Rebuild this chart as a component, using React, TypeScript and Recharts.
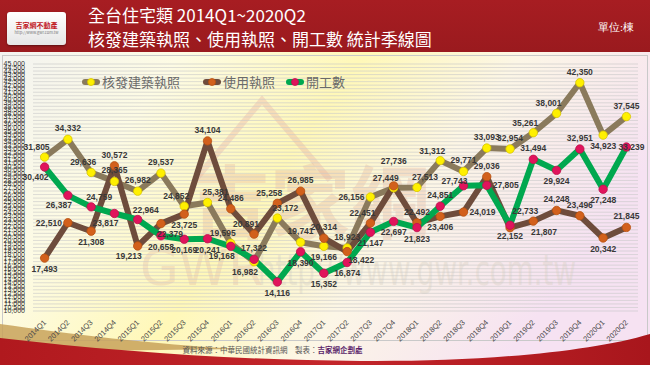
import { LineChart, Line, XAxis, YAxis, CartesianGrid, LabelList } from "recharts";

const quarters = [
  "2014Q1", "2014Q2", "2014Q3", "2014Q4",
  "2015Q1", "2015Q2", "2015Q3", "2015Q4",
  "2016Q1", "2016Q2", "2016Q3", "2016Q4",
  "2017Q1", "2017Q2", "2017Q3", "2017Q4",
  "2018Q1", "2018Q2", "2018Q3", "2018Q4",
  "2019Q1", "2019Q2", "2019Q3", "2019Q4",
  "2020Q1", "2020Q2",
];

// 核發建築執照
const buildingPermits = [
  31805, 34332, 29636, 28365, 26982, 29537, 24852, 25381,
  19595, 16982, 23172, 19741, 19166, 18923, 26156, 27449,
  27513, 31312, 29771, 33093, 32954, 35261, 38001, 42350,
  34923, 37545,
];

// 使用執照
const usePermits = [
  17493, 22510, 21308, 30572, 19213, 22379, 23725, 34104,
  24486, 20891, 25258, 26985, 20314, 18422, 22451, 27736,
  22492, 23406, 24019, 29036, 21807, 22733, 24248, 23496,
  20342, 21845,
];

// 開工數
const starts = [
  30402, 26387, 24759, 23817, 22964, 20658, 20169, 20241,
  19168, 17322, 14116, 18390, 15352, 16874, 21147, 22697,
  21823, 24851, 27743, 27805, 22152, 31494, 29924, 32951,
  27248, 33239,
];

const yTicks: number[] = [];
for (let v = 10000; v <= 45000; v += 500) yTicks.push(v);

const data = quarters.map((q, i) => ({
  q,
  building: buildingPermits[i],
  use: usePermits[i],
  start: starts[i],
}));

// where each value label sits relative to its dot (hand-placed like the original)
const LABEL_SIDE: Record<string, string[]> = {
  building: [
    "tl", "t", "tl", "t", "t", "t", "tl", "tr", "tl", "bl", "tr", "t", "b",
    "t", "l", "tl", "tr", "tl", "t", "t", "t", "tl", "tl", "t", "b", "t",
  ],
  use: [
    "b", "l", "b", "t", "bl", "br", "b", "t", "t", "tl", "tl", "t", "t",
    "rb", "tl", "hi", "t", "b", "r", "t", "far", "tl", "t", "t", "b", "t",
  ],
  start: [
    "bl", "bl", "tr", "bl", "tr", "b", "b", "b", "bl", "t", "b", "b", "b",
    "b", "b", "b", "b", "t", "ml", "r", "b", "t", "b", "t", "b", "on",
  ],
};

const OFFSETS: Record<string, [number, number, "start" | "middle" | "end"]> = {
  t: [0, -8, "middle"],
  b: [0, 14, "middle"],
  l: [-6, 3, "end"],
  r: [6, 3, "start"],
  tl: [-8, -7, "middle"],
  tr: [8, -7, "middle"],
  bl: [-9, 13, "middle"],
  br: [9, 13, "middle"],
  rb: [14, 11, "middle"],
  hi: [0, -22, "middle"],
  far: [34, 7, "middle"],
  ml: [-9, -2, "middle"],
  on: [5, 3, "middle"],
};

const SERIES = [
  { key: "building", name: "核發建築執照", line: "#8a7a5c", dot: "#fff000", dotStroke: "#d6c400" },
  { key: "use", name: "使用執照", line: "#6e4c3c", dot: "#d2601c", dotStroke: "#b8500f" },
  { key: "start", name: "開工數", line: "#00a84f", dot: "#e0145c", dotStroke: "#c0104c" },
];

const fmt = (v: number) => v.toLocaleString("en-US");

const makeLabel = (key: string) => (props: any) => {
  const { x, y, value, index } = props;
  const [dx, dy, anchor] = OFFSETS[LABEL_SIDE[key][index]] || OFFSETS.t;
  return (
    <text
      x={x + dx}
      y={y + dy}
      textAnchor={anchor}
      fontSize={8.5}
      fontWeight="bold"
      fill="#383838"
      fontFamily="'Liberation Sans', Arial, sans-serif"
    >
      {fmt(value)}
    </text>
  );
};

const XTick = (props: any) => {
  const { x, y, payload } = props;
  return (
    <text
      x={x + 2}
      y={y + 4}
      transform={`rotate(-45, ${x + 2}, ${y + 4})`}
      textAnchor="end"
      fontSize={7.5}
      fill="#4a4a4a"
      fontFamily="'Liberation Sans', Arial, sans-serif"
    >
      {payload.value}
    </text>
  );
};

function LegendIcon({ line, dot, dotStroke }: { line: string; dot: string; dotStroke: string }) {
  return (
    <svg width={20} height={12} style={{ display: "block" }}>
      <line x1={4} y1={6} x2={16} y2={6} stroke={line} strokeWidth={6} strokeLinecap="round" />
      <circle cx={10} cy={6} r={3.5} fill={dot} stroke={dotStroke} strokeWidth={0.8} />
    </svg>
  );
}

export default function App() {
  return (
    <div
      style={{
        position: "relative",
        width: 650,
        height: 365,
        overflow: "hidden",
        fontFamily: "'Noto Sans CJK TC', 'Noto Sans', sans-serif",
        background: "#fff",
      }}
    >
      <style>{"body{margin:0}"}</style>

      {/* backdrop */}
      <svg width={650} height={365} style={{ position: "absolute", left: 0, top: 0 }}>
        <defs>
          <linearGradient id="bg" x1="0" y1="0" x2="1" y2="0.35">
            <stop offset="0" stopColor="#f3f3f1" />
            <stop offset="0.25" stopColor="#fdfbe4" />
            <stop offset="0.5" stopColor="#fff8b8" />
            <stop offset="0.72" stopColor="#fcf6e6" />
            <stop offset="1" stopColor="#f6e2f2" />
          </linearGradient>
          <linearGradient id="head" x1="0" y1="0" x2="0" y2="1">
            <stop offset="0" stopColor="#a71d22" />
            <stop offset="1" stopColor="#9a1a1e" />
          </linearGradient>
          <linearGradient id="foot" x1="0" y1="0" x2="1" y2="0">
            <stop offset="0" stopColor="#b0191e" />
            <stop offset="0.5" stopColor="#c4262b" />
            <stop offset="1" stopColor="#a8161c" />
          </linearGradient>
        </defs>
        <rect x={0} y={52} width={650} height={313} fill="url(#bg)" />
        <rect x={2.5} y={55.5} width={645} height={285} fill="none" stroke="#c9c9c9" />
        <rect x={0} y={0} width={650} height={52} fill="url(#head)" />
        <path d="M0,324 C70,334 150,344 240,349 L0,352 Z" fill="#c8a25a" opacity={0.85} />
        <path d="M0,338 C120,352 240,360 360,361 C480,362 590,352 650,334 L650,365 L0,365 Z" fill="url(#foot)" />
        {/* watermark */}
        <path d="M195,180 L262,100 L330,180" fill="none" stroke="#e9a9a0" strokeWidth={6} opacity={0.35} />
        <text x={190} y={232} fontSize={80} fill="#e7b29a" opacity={0.33} fontWeight="bold">吉家網</text>
        <text x={140} y={285} fontSize={50} fill="#e2b2a2" opacity={0.3} fontFamily="'DejaVu Sans', sans-serif">GWR</text>
        <text
          x={258}
          y={285}
          fontSize={42}
          textLength={318}
          lengthAdjust="spacingAndGlyphs"
          fill="#d8d0c0"
          opacity={0.38}
          fontFamily="'DejaVu Sans', sans-serif"
        >
          http://www.gwr.com.tw
        </text>
      </svg>

      {/* logo */}
      <div
        style={{
          position: "absolute",
          left: 7,
          top: 12,
          width: 59,
          height: 33,
          background: "linear-gradient(#ffffff, #e6e6e6)",
          borderRadius: 3,
          boxShadow: "0 1px 2px rgba(0,0,0,0.4)",
          textAlign: "center",
        }}
      >
        <div style={{ fontSize: 7, color: "#c0161d", marginTop: 9, lineHeight: "8px", fontWeight: "bold" }}>吉家網不動產</div>
        <div style={{ fontSize: 4, color: "#777", lineHeight: "6px" }}>http://www.gwr.com.tw</div>
      </div>

      {/* title */}
      <div style={{ position: "absolute", left: 88, top: 3, color: "#fff", fontSize: 17, lineHeight: "24px" }}>
        <div>全台住宅類 2014Q1~2020Q2</div>
        <div>核發建築執照、使用執照、開工數 統計季線圖</div>
      </div>
      <div
        style={{
          position: "absolute",
          left: 598,
          top: 20,
          color: "#fff",
          fontSize: 11,
          fontFamily: "'Liberation Serif', serif",
        }}
      >
        單位:棟
      </div>

      {/* chart */}
      <div style={{ position: "absolute", left: 0, top: 0 }}>
        <LineChart width={650} height={365} data={data} margin={{ top: 64, right: 12, bottom: 24, left: 0 }}>
          <CartesianGrid vertical={false} stroke="#c8c8c8" strokeWidth={0.6} />
          <XAxis
            dataKey="q"
            interval={0}
            padding={{ left: 11.6, right: 11.6 }}
            axisLine={false}
            tickLine={false}
            tick={<XTick />}
            height={30}
          />
          <YAxis
            domain={[10000, 45000]}
            ticks={yTicks}
            interval={0}
            width={33}
            axisLine={false}
            tickLine={false}
            tickFormatter={fmt}
            tick={{ fontSize: 7, fill: "#333", fontFamily: "'Liberation Sans', Arial, sans-serif" }}
          />
          {SERIES.map((s) => (
            <Line
              key={s.key}
              dataKey={s.key}
              name={s.name}
              stroke={s.line}
              strokeWidth={6}
              strokeLinejoin="round"
              dot={{ r: 4.2, fill: s.dot, stroke: s.dotStroke, strokeWidth: 0.8 }}
              activeDot={false}
              isAnimationActive={false}
            />
          ))}
          {/* value labels drawn last so they sit above every line */}
          {SERIES.map((s) => (
            <Line
              key={s.key + "-labels"}
              dataKey={s.key}
              stroke="none"
              dot={false}
              activeDot={false}
              legendType="none"
              isAnimationActive={false}
            >
              <LabelList dataKey={s.key} content={makeLabel(s.key)} />
            </Line>
          ))}
        </LineChart>
      </div>

      {/* legend */}
      <div style={{ position: "absolute", left: 81, top: 72, display: "flex", alignItems: "center", fontSize: 13, color: "#6a6a6a" }}>
        {SERIES.map((s, i) => (
          <div key={s.key} style={{ display: "flex", alignItems: "center", marginRight: i === 0 ? 22 : 10 }}>
            <LegendIcon line={s.line} dot={s.dot} dotStroke={s.dotStroke} />
            <span style={{ marginLeft: 1 }}>{s.name}</span>
          </div>
        ))}
      </div>

      {/* footer */}
      <div
        style={{
          position: "absolute",
          left: 0,
          width: 545,
          top: 344,
          textAlign: "center",
          fontSize: 7.5,
          color: "#555",
        }}
      >
        資料來源：中華民國統計資訊網　製表：<span style={{ color: "#5a1f6a", fontWeight: "bold" }}>吉家網企劃處</span>
      </div>
    </div>
  );
}
